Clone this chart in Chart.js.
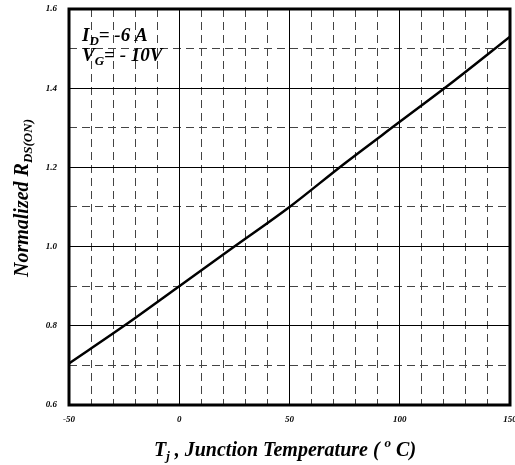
<!DOCTYPE html>
<html>
<head>
<meta charset="utf-8">
<script src="https://cdn.jsdelivr.net/npm/chart.js@4.4.0/dist/chart.umd.min.js"></script>
<style>
  html, body { margin: 0; padding: 0; background: #fff; }
  #wrap { width: 515px; height: 465px; position: relative; }
</style>
</head>
<body>
<div id="wrap"><canvas id="chart"></canvas></div>
<script>
// --- data ---
const temps = [-50, -25, 0, 25, 50, 75, 100, 125, 150];
const rdsOn = [0.705, 0.80, 0.90, 1.00, 1.10, 1.21, 1.315, 1.42, 1.53];

// tick positions
const xTicks = [-50, 0, 50, 100, 150];
const xMinor = [-40, -30, -20, -10, 10, 20, 30, 40, 60, 70, 80, 90, 110, 120, 130, 140];
const yTicks = [0.6, 0.8, 1.0, 1.2, 1.4, 1.6];
const yMinor = [0.7, 0.9, 1.1, 1.3, 1.5];

const serif = "'Liberation Serif', 'Times New Roman', serif";

// draw a row of text pieces (for sub/superscripts), left to right
function drawRuns(ctx, runs, x, y, center) {
  let total = 0;
  runs.forEach(r => {
    ctx.font = `italic bold ${r.size}px ${serif}`;
    r.w = ctx.measureText(r.t).width;
    total += r.w;
  });
  let cx = center ? x - total / 2 : x;
  runs.forEach(r => {
    ctx.font = `italic bold ${r.size}px ${serif}`;
    ctx.fillText(r.t, cx, y + (r.dy || 0));
    cx += r.w;
  });
}

const decorations = {
  id: 'decorations',
  afterDraw(chart) {
    const ctx = chart.ctx;
    const a = chart.chartArea;
    ctx.save();
    // plot frame
    ctx.strokeStyle = '#000';
    ctx.lineWidth = 3;
    ctx.strokeRect(a.left, a.top, a.right - a.left, a.bottom - a.top);

    ctx.fillStyle = '#000';
    ctx.textBaseline = 'alphabetic';
    ctx.textAlign = 'left';

    // conditions
    drawRuns(ctx, [{ t: 'I', size: 19 }, { t: 'D', size: 13, dy: 4 }, { t: '= -6 A', size: 19 }], 82, 41);
    drawRuns(ctx, [{ t: 'V', size: 19 }, { t: 'G', size: 13, dy: 4 }, { t: '= - 10V', size: 19 }], 82, 61);

    // x axis title
    drawRuns(ctx, [
      { t: 'T', size: 20 }, { t: 'j', size: 13, dy: 4 },
      { t: ' , Junction Temperature ( ', size: 20 },
      { t: 'o', size: 13, dy: -9 }, { t: ' C)', size: 20 }
    ], 285, 456, true);

    // y axis title
    ctx.translate(28, 198);
    ctx.rotate(-Math.PI / 2);
    drawRuns(ctx, [{ t: 'Normalized R', size: 20 }, { t: 'DS(ON)', size: 13, dy: 4 }], 0, 0, true);
    ctx.restore();
  }
};

function fixedTicks(list) {
  return scale => { scale.ticks = list.map(v => ({ value: v })); };
}

const tickFont = { family: serif, size: 9, style: 'italic', weight: 'bold' };

new Chart(document.getElementById('chart'), {
  type: 'line',
  data: {
    datasets: [{
      data: temps.map((t, i) => ({ x: t, y: rdsOn[i] })),
      borderColor: '#000',
      borderWidth: 2.5,
      pointRadius: 0,
      cubicInterpolationMode: 'monotone',
      fill: false
    }]
  },
  options: {
    responsive: true,
    maintainAspectRatio: false,
    animation: false,
    layout: { padding: { top: 9, right: 5, left: 0, bottom: 0 } },
    plugins: { legend: { display: false }, tooltip: { enabled: false } },
    scales: {
      xMinor: {
        type: 'linear', position: 'bottom', min: -50, max: 150,
        afterBuildTicks: fixedTicks(xMinor),
        ticks: { display: false },
        grid: { color: '#444', lineWidth: 1, drawTicks: false },
        border: { display: false, dash: [8, 5] },
        afterFit: s => { s.height = 0; }
      },
      yMinor: {
        type: 'linear', position: 'left', min: 0.6, max: 1.6,
        afterBuildTicks: fixedTicks(yMinor),
        ticks: { display: false },
        grid: { color: '#444', lineWidth: 1, drawTicks: false },
        border: { display: false, dash: [8, 5] },
        afterFit: s => { s.width = 0; }
      },
      x: {
        type: 'linear', position: 'bottom', min: -50, max: 150,
        afterBuildTicks: fixedTicks(xTicks),
        ticks: { font: tickFont, color: '#000', padding: 9, maxRotation: 0, autoSkip: false },
        grid: { color: '#000', lineWidth: 1, drawTicks: false },
        border: { display: false },
        afterFit: s => { s.height = 60; s.paddingLeft = 0; s.paddingRight = 0; }
      },
      y: {
        type: 'linear', position: 'left', min: 0.6, max: 1.6,
        afterBuildTicks: fixedTicks(yTicks),
        ticks: { font: tickFont, color: '#000', padding: 12, autoSkip: false, callback: v => v.toFixed(1) },
        grid: { color: '#000', lineWidth: 1, drawTicks: false },
        border: { display: false },
        afterFit: s => { s.width = 69; s.paddingTop = 0; s.paddingBottom = 0; }
      }
    }
  },
  plugins: [decorations]
});
</script>
</body>
</html>
